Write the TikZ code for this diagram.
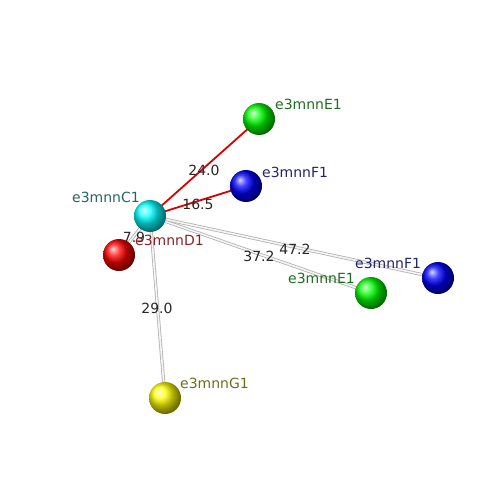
\documentclass[tikz,border=0pt]{standalone}
\usepackage{fontspec}
\setmainfont{DejaVu Sans}
\definecolor{lblgreen}{RGB}{30,110,30}
\definecolor{lblnavy}{RGB}{35,35,110}
\definecolor{lblteal}{RGB}{40,100,100}
\definecolor{lblred}{RGB}{140,35,35}
\definecolor{lblolive}{RGB}{110,110,25}
\begin{document}
\begin{tikzpicture}[x=1pt,y=-1pt,
  atom/.style={circle,minimum size=32pt,inner sep=0pt,shading=ball},
  bond/.style={red!85!black,line width=1.8pt},
  tube/.style={gray!60,double=gray!8,double distance=1.6pt,line width=0.8pt},
  dist/.style={font=\fontsize{14}{14}\selectfont,text=black!85,inner sep=0pt},
  tag/.style={font=\fontsize{14}{14}\selectfont,anchor=west,inner sep=0pt}]
\useasboundingbox (0,0) rectangle (500,500);
% atoms
\coordinate (c1) at (150,216);
\coordinate (e1top) at (259,119);
\coordinate (f1top) at (246,186);
\coordinate (d1) at (119,255);
\coordinate (e1) at (371,293);
\coordinate (f1) at (438,278);
\coordinate (g1) at (165,398);
% bonds
\draw [tube] (c1) -- (d1);
\draw [tube] (c1) -- (e1);
\draw [tube] (c1) -- (f1);
\draw [tube] (c1) -- (g1);
\draw [bond] (c1) -- (e1top);
\draw [bond] (c1) -- (f1top);
\node [atom,ball color=red] (d1n) at (d1) {};
\node [atom,ball color=green] (e1topn) at (e1top) {};
\node [atom,ball color=blue] (f1topn) at (f1top) {};
\node [atom,ball color=green] (e1n) at (e1) {};
\node [atom,ball color=blue] (f1n) at (f1) {};
\node [atom,ball color=yellow] (g1n) at (g1) {};
\node [atom,ball color=cyan] (c1n) at (c1) {};
% distances
\node [dist] at (204,170) {24.0};
\node [dist] at (198,204) {16.5};
\node [dist] at (134,237) {7.9};
\node [dist] at (295,249) {47.2};
\node [dist] at (259,256) {37.2};
\node [dist] at (157,308) {29.0};
% names
\node [tag,text=lblgreen] at (275,104) {e3mnnE1};
\node [tag,text=lblnavy] at (262,172) {e3mnnF1};
\node [tag,text=lblteal] at (72,197) {e3mnnC1};
\node [tag,text=lblred] at (135,240) {e3mnnD1};
\node [tag,text=lblnavy] at (355,263) {e3mnnF1};
\node [tag,text=lblgreen] at (288,278) {e3mnnE1};
\node [tag,text=lblolive] at (180,383) {e3mnnG1};
\end{tikzpicture}
\end{document}
